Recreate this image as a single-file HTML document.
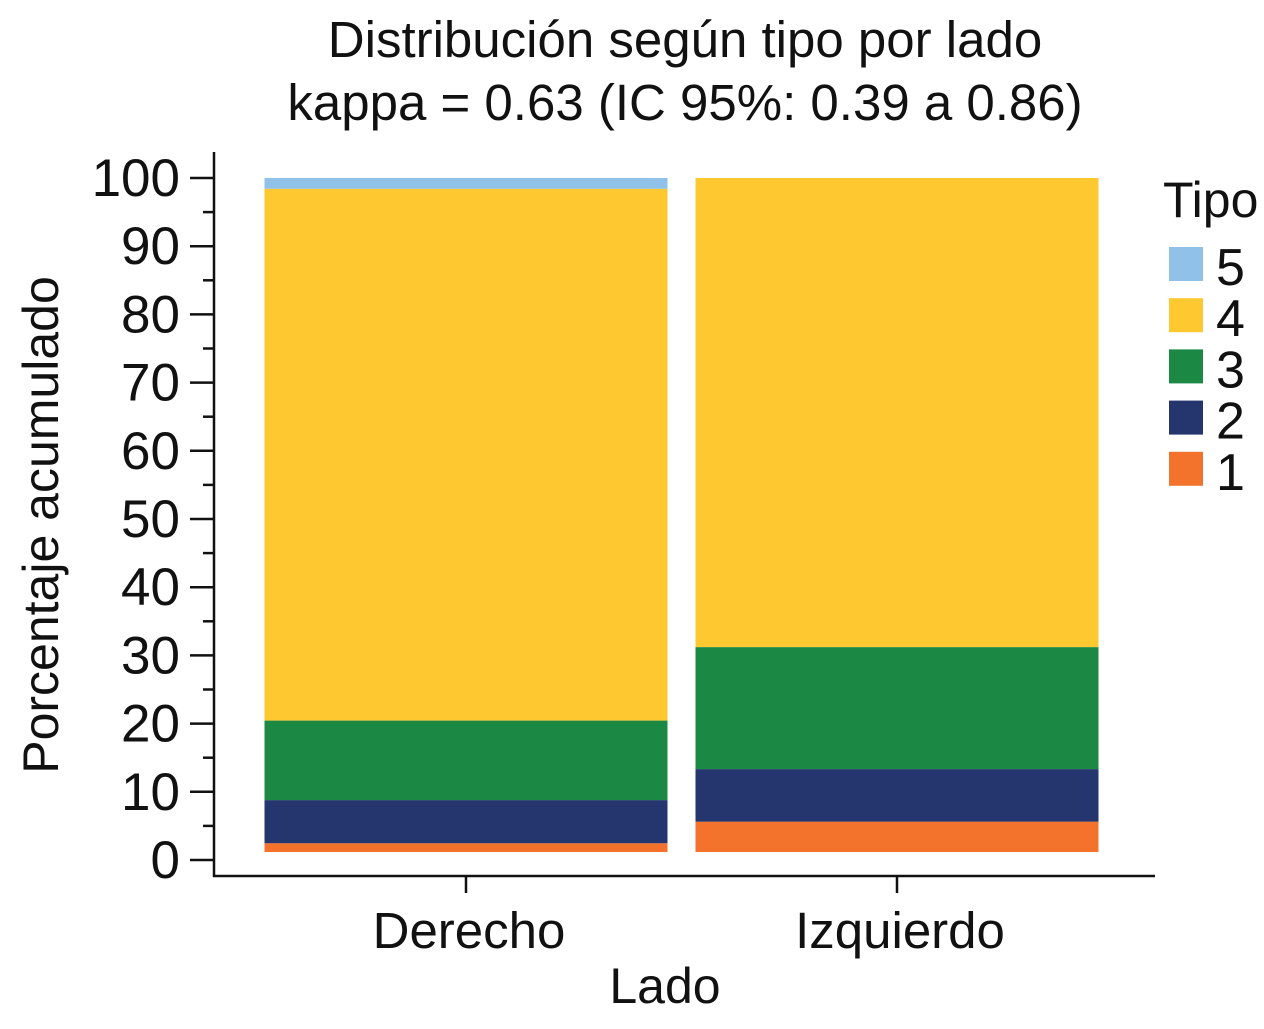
<!DOCTYPE html>
<html><head><meta charset="utf-8"><style>
body{margin:0;background:#fff}
svg text{font-family:"Liberation Sans",sans-serif;fill:#111}
</style></head><body>
<svg id="chart" width="1264" height="1024">
<text x="685" y="57" font-size="51" text-anchor="middle">Distribución según tipo por lado</text>
<text x="685" y="120" font-size="51" text-anchor="middle">kappa = 0.63 (IC 95%: 0.39 a 0.86)</text>
<g id="axes"></g>
<g id="bars"></g>
<g id="legend"></g>
<text x="665" y="1003" font-size="50" text-anchor="middle">Lado</text>
<text transform="translate(58,525) rotate(-90)" font-size="50" text-anchor="middle">Porcentaje acumulado</text>
</svg>
<script>
const categories=["Derecho","Izquierdo"];
const tipos=["1","2","3","4","5"];
const tipo1=[1.3,4.5];
const tipo2=[6.4,7.8];
const tipo3=[11.8,18.1];
const tipo4=[78.9,69.6];
const tipo5=[1.6,0];
const yTicks=[0,10,20,30,40,50,60,70,80,90,100];
const colors=["#f3722c","#25356e","#1b8844","#fec930","#90c1e8"];
const series=[tipo1,tipo2,tipo3,tipo4,tipo5];
const NS="http://www.w3.org/2000/svg";
function mk(t,a,p){const e=document.createElementNS(NS,t);for(const k in a)e.setAttribute(k,a[k]);p.appendChild(e);return e;}
const yAxis=v=>860-v*6.82;
const yBar=v=>852-v*6.74;
const xCenter=i=>466+i*431;
const barW=403;
const ax=document.getElementById('axes');
let l=mk('line',{x1:214,y1:152,x2:214,y2:877,stroke:'#111','stroke-width':2.5},ax);


l=mk('line',{x1:213,y1:876,x2:1155,y2:876,stroke:'#111','stroke-width':2.5},ax);


for(let v=0;v<=100;v+=5){
 const major=v%10===0;
 const t=mk('line',{x1:major?190:203,y1:yAxis(v),x2:214,y2:yAxis(v),stroke:'#111','stroke-width':2.5},ax);
 
 
}
yTicks.forEach(v=>{
 const t=mk('text',{x:180,y:yAxis(v)+18,'font-size':53,'text-anchor':'end'},ax);t.textContent=v;
 
 
});
categories.forEach((c,i)=>{
 const t=mk('line',{x1:xCenter(i),y1:876,x2:xCenter(i),y2:893,stroke:'#111','stroke-width':2.5},ax);
 
 
 const tx=mk('text',{x:xCenter(i)+3,y:948,'font-size':51,'text-anchor':'middle'},ax);tx.textContent=c;
 
 
});
const bg=document.getElementById('bars');
categories.forEach((c,i)=>{
 let cum=0;
 series.forEach((s,k)=>{
  const v=s[i]; if(v<=0){return;}
  const y0=yBar(cum),y1=yBar(cum+v);cum+=v;
  const r=mk('rect',{x:xCenter(i)-barW/2,y:y1,width:barW,height:y0-y1,fill:colors[k]},bg);
  
  
 });
});
const lg=document.getElementById('legend');
let tt=mk('text',{x:1163,y:217,'font-size':50},lg);tt.textContent='Tipo';


for(let j=0;j<5;j++){
 const k=4-j,y=247+j*51.2;
 const r=mk('rect',{x:1169,y:y,width:34,height:34,fill:colors[k]},lg);
 
 
 const t=mk('text',{x:1216,y:y+38,'font-size':52},lg);t.textContent=tipos[k];
 
 
}
</script>
</body></html>
